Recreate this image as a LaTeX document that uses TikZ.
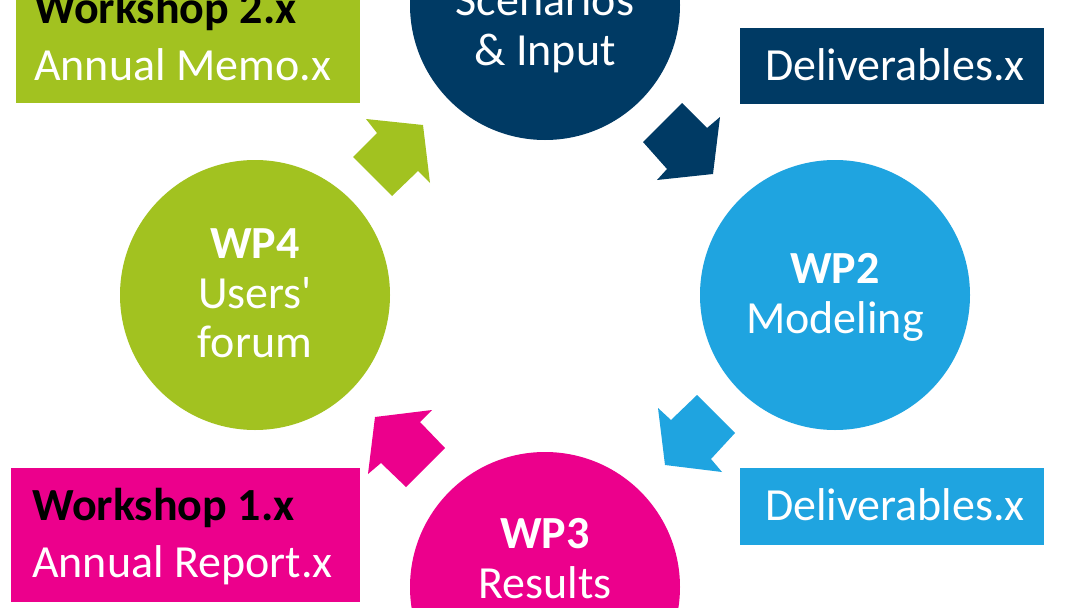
\documentclass[tikz,border=0pt]{standalone}
\usepackage{fontspec}
\setmainfont{Carlito}
\definecolor{wpnavy}{RGB}{0,58,100}
\definecolor{wpblue}{RGB}{31,164,224}
\definecolor{wpgreen}{RGB}{162,194,32}
\definecolor{wppink}{RGB}{236,0,140}
\tikzset{
  wp/.style={circle, minimum size=270pt, inner sep=0pt},
  box/.style={rectangle, inner sep=0pt, anchor=north west},
  lbl/.style={anchor=base, inner sep=0pt, text=white, font=\fontsize{46}{50}\selectfont},
  lblb/.style={lbl, font=\fontsize{46}{50}\selectfont\bfseries},
  lbll/.style={lbl, anchor=base west}
}
\begin{document}
\begin{tikzpicture}[x=1pt, y=-1pt]
\useasboundingbox (0,0) rectangle (1080,608);
\clip (0,0) rectangle (1080,608);
\fill[white] (0,0) rectangle (1080,608);

% work packages
\node[wp, fill=wpnavy] (wp1) at (545,5) {};
\node[wp, fill=wpblue] (wp2) at (835,295) {};
\node[wp, fill=wppink] (wp3) at (545,587) {};
\node[wp, fill=wpgreen] (wp4) at (255,295) {};

% boxes
\node[box, fill=wpgreen, minimum width=344pt, minimum height=123pt] (memo) at (16,-20) {};
\node[box, fill=wpnavy, minimum width=304pt, minimum height=76pt] (delnavy) at (740,28) {};
\node[box, fill=wpblue, minimum width=304pt, minimum height=77pt] (delblue) at (740,468) {};
\node[box, fill=wppink, minimum width=349pt, minimum height=134pt] (report) at (11,468) {};

% arrows
\fill[wpnavy] (682,103) -- (707,128) -- (720,117) -- (713,174) -- (657,180) -- (667,169) -- (643,142) -- cycle;
\fill[wpblue] (697,395) -- (735,433) -- (711,459) -- (722,472) -- (665,465) -- (658,408) -- (671,420) -- cycle;
\fill[wppink] (432,410) -- (420,422) -- (445,448) -- (406,487) -- (381,463) -- (368,474) -- (375,417) -- cycle;
\fill[wpgreen] (353,157) -- (377,133) -- (366,119) -- (423,125) -- (430,183) -- (418,171) -- (392,196) -- cycle;

% texts
\node[lbl] (wp1b) at (545,15) {Scenarios};
\node[lbl] (wp1c) at (545,65) {\& Input};
\node[lblb] (wp2a) at (835,283) {WP2};
\node[lbl] (wp2b) at (835,333) {Modeling};
\node[lblb] (wp3a) at (545,548) {WP3};
\node[lbl] (wp3b) at (545,598) {Results};
\node[lblb] (wp4a) at (255,258) {WP4};
\node[lbl] (wp4b) at (255,308) {Users\textquotesingle};
\node[lbl] (wp4c) at (255,357) {forum};

\node[lbll, text=black, font=\fontsize{46}{50}\selectfont\bfseries] (memoa) at (34,23) {Workshop 2.x};
\node[lbll] (memob) at (34,80) {Annual Memo.x};
\node[lbl] (delnavyt) at (895,80) {Deliverables.x};
\node[lbl] (delbluet) at (895,520) {Deliverables.x};
\node[lbll, text=black, font=\fontsize{46}{50}\selectfont\bfseries] (reporta) at (32,520) {Workshop 1.x};
\node[lbll] (reportb) at (32,577) {Annual Report.x};
\end{tikzpicture}
\end{document}
